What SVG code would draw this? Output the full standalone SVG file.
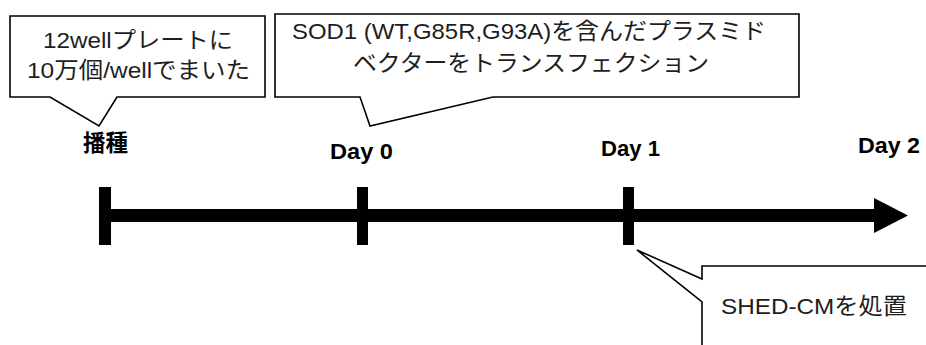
<svg xmlns="http://www.w3.org/2000/svg" width="926" height="345" viewBox="0 0 926 345">
<style>
.callout{fill:#fff;stroke:#000;stroke-width:1.6;stroke-linejoin:miter}
.ct{font-family:"Liberation Sans","Noto Sans CJK JP",sans-serif;font-size:22.5px;fill:#1e1e1e}
.lb{font-family:"Liberation Sans","Noto Sans CJK JP",sans-serif;font-size:22.5px;font-weight:bold;fill:#000}
.bar{fill:#000}
</style>
<rect width="926" height="345" fill="#fff"/>
<g id="timeline">
<rect class="bar" x="105" y="209" width="770" height="13"/>
<polygon class="bar" points="874,198 908,215.5 874,233"/>
</g>
<g id="tick-seed"><rect class="bar" x="99" y="187" width="12" height="58"/></g>
<g id="tick-day0"><rect class="bar" x="357" y="187" width="11" height="58"/></g>
<g id="tick-day1"><rect class="bar" x="623" y="187" width="11" height="58"/></g>
<g id="label-seed"><text class="lb" x="83" y="151" textLength="45" lengthAdjust="spacingAndGlyphs">播種</text></g>
<g id="label-day0"><text class="lb" x="330" y="159" textLength="63" lengthAdjust="spacingAndGlyphs">Day 0</text></g>
<g id="label-day1"><text class="lb" x="601" y="156" textLength="59" lengthAdjust="spacingAndGlyphs">Day 1</text></g>
<g id="label-day2"><text class="lb" x="858" y="153" textLength="62" lengthAdjust="spacingAndGlyphs">Day 2</text></g>
<g id="callout-seed">
<path class="callout" d="M10,16 H265 V97 H117 L99,126 L50,97 H10 Z"/>
<text class="ct" x="43" y="48" textLength="190" lengthAdjust="spacingAndGlyphs">12wellプレートに</text>
<text class="ct" x="27" y="78" textLength="223" lengthAdjust="spacingAndGlyphs">10万個/wellでまいた</text>
</g>
<g id="callout-transfection">
<path class="callout" d="M275,14 H799 V97 H493 L370,126 L360,97 H275 Z"/>
<text class="ct" x="292" y="39" textLength="474" lengthAdjust="spacingAndGlyphs">SOD1 (WT,G85R,G93A)を含んだプラスミド</text>
<text class="ct" x="353" y="71" textLength="356" lengthAdjust="spacingAndGlyphs">ベクターをトランスフェクション</text>
</g>
<g id="callout-shed">
<path class="callout" d="M702,266 H930 V350 H702 V302 L637,250 L702,279 Z"/>
<text class="ct" x="721" y="314" textLength="186" lengthAdjust="spacingAndGlyphs">SHED-CMを処置</text>
</g>
</svg>
